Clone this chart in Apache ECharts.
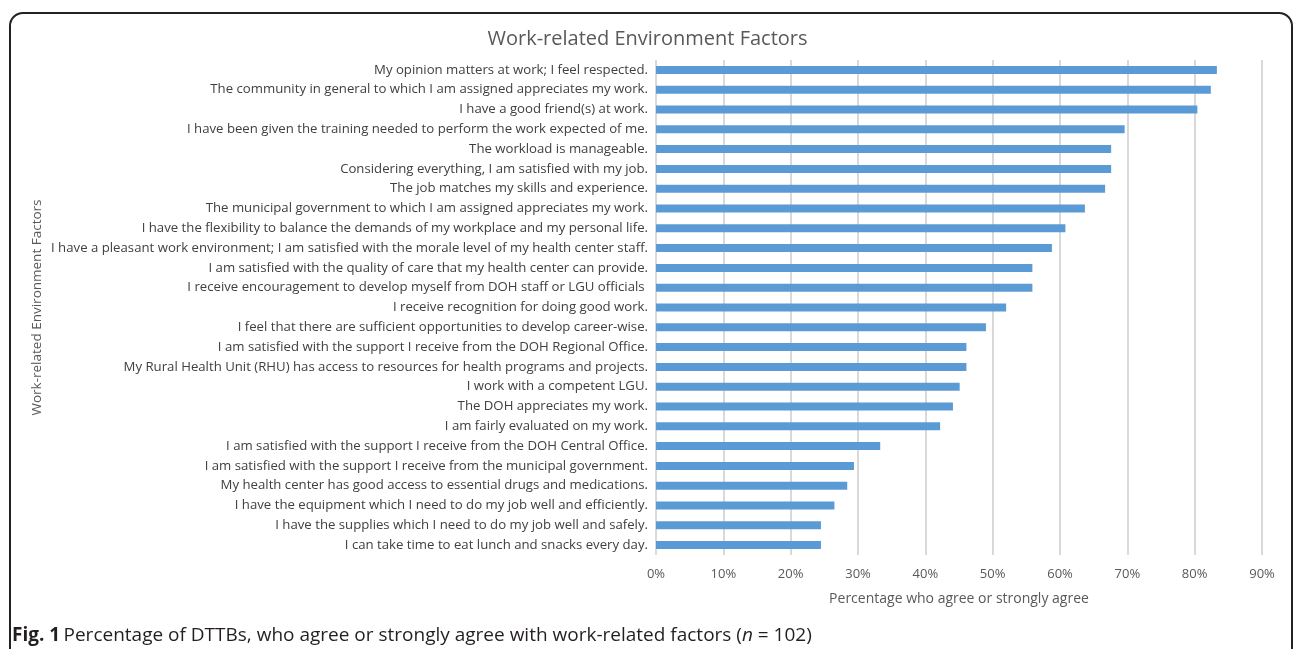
<!DOCTYPE html>
<html><head><meta charset="utf-8">
<script src="https://cdn.jsdelivr.net/npm/echarts@6/dist/echarts.min.js"></script>
<style>
html,body{margin:0;padding:0;background:#fff;}
#frame{position:absolute;left:9px;top:12px;width:1284px;height:660px;border:2px solid #222;border-radius:14px;box-sizing:border-box;}
#chart{position:absolute;left:0;top:0;width:1295px;height:649px;}
</style></head>
<body>
<div id="frame"></div>
<div id="chart"></div>
<script>
const categories = [
  "My opinion matters at work; I feel respected.",
  "The community in general to which I am assigned appreciates my work.",
  "I have a good friend(s) at work.",
  "I have been given the training needed to perform the work expected of me.",
  "The workload is manageable.",
  "Considering everything, I am satisfied with my job.",
  "The job matches my skills and experience.",
  "The municipal government to which I am assigned appreciates my work.",
  "I have the flexibility to balance the demands of my workplace and my personal life.",
  "I have a pleasant work environment; I am satisfied with the morale level of my health center staff.",
  "I am satisfied with the quality of care that my health center can provide.",
  "I receive encouragement to develop myself from DOH staff or LGU officials ",
  "I receive recognition for doing good work.",
  "I feel that there are sufficient opportunities to develop career-wise.",
  "I am satisfied with the support I receive from the DOH Regional Office.",
  "My Rural Health Unit (RHU) has access to resources for health programs and projects.",
  "I work with a competent LGU.",
  "The DOH appreciates my work.",
  "I am fairly evaluated on my work.",
  "I am satisfied with the support I receive from the DOH Central Office.",
  "I am satisfied with the support I receive from the municipal government.",
  "My health center has good access to essential drugs and medications.",
  "I have the equipment which I need to do my job well and efficiently.",
  "I have the supplies which I need to do my job well and safely.",
  "I can take time to eat lunch and snacks every day."
];
const values = [83.3, 82.4, 80.4, 69.6, 67.6, 67.6, 66.7, 63.7, 60.8, 58.8, 55.9, 55.9, 52.0, 49.0, 46.1, 46.1, 45.1, 44.1, 42.2, 33.3, 29.4, 28.4, 26.5, 24.5, 24.5];
const xTicks = [0, 10, 20, 30, 40, 50, 60, 70, 80, 90];
const titleText = "Work-related Environment Factors";
const xAxisName = "Percentage who agree or strongly agree";
const yAxisName = "Work-related Environment Factors";

const chart = echarts.init(document.getElementById('chart'), null, {renderer:'canvas'});
const font = "Open Sans";
chart.setOption({
  animation:false,
  title:{text:titleText, left:'center', top:24, textStyle:{fontFamily:font, fontSize:20, fontWeight:'normal', color:'#595959'}},
  grid:{left:656, right:33, top:60, bottom:94, containLabel:false},
  xAxis:{type:'value', min:xTicks[0], max:xTicks[xTicks.length-1], interval:10,
    axisLabel:{formatter:v=>v+'%', color:'#595959', fontFamily:font, fontSize:13, margin:13},
    axisLine:{show:false}, axisTick:{show:false},
    splitLine:{show:true, lineStyle:{color:'#d9d9d9', width:2}},
    name:xAxisName, nameLocation:'middle', nameGap:37,
    nameTextStyle:{color:'#595959', fontFamily:font, fontSize:14}},
  yAxis:{type:'category', data:categories, inverse:true,
    axisLabel:{color:'#404040', fontFamily:font, fontSize:13.2, margin:8},
    axisLine:{show:false}, axisTick:{show:false},
    name:yAxisName, nameLocation:'middle', nameGap:612, nameRotate:90,
    nameTextStyle:{color:'#595959', fontFamily:font, fontSize:13.5}},
  series:[{type:'bar', data:values, barWidth:8, itemStyle:{color:'#5B9BD5'}}],
  graphic:[{type:'text', left:12, top:626, style:{rich:{b:{fontWeight:'bold', fontFamily:font, fontSize:19, fill:'#231f20'}, n:{fontFamily:font, fontSize:19, fill:'#231f20'}, i:{fontFamily:font, fontSize:19, fontStyle:'italic', fill:'#231f20'}},
    text:'{b|Fig. 1} {n|Percentage of DTTBs, who agree or strongly agree with work-related factors (}{i|n}{n| = 102)}'}}]
});
</script>
</body></html>
